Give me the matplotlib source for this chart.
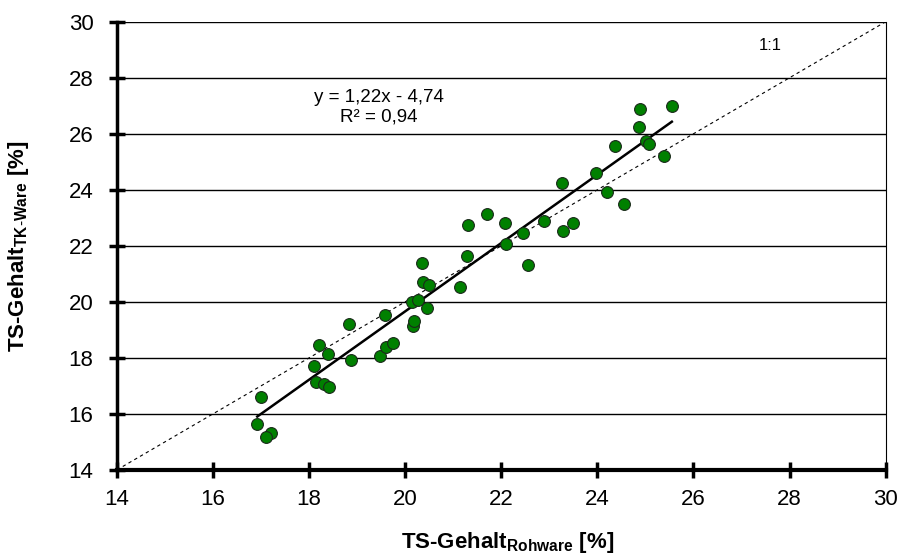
import numpy as np
import matplotlib.pyplot as plt

# TS-Gehalt Rohware vs. TK-Ware [%]
ts_rohware = [16.99, 16.92, 17.20, 17.10, 18.20, 18.40, 18.11, 18.14, 18.31, 18.41,
              18.88, 19.48, 19.60, 19.74, 18.83, 20.17, 20.18, 19.58, 20.46, 20.14,
              20.26, 20.36, 20.50, 20.35, 21.15, 21.28, 21.30, 22.07, 22.10, 22.45,
              22.56, 21.71, 22.89, 23.29, 23.50, 23.27, 23.97, 24.21, 24.56, 25.39,
              24.88, 25.55, 24.87, 24.37, 25.01, 25.08]
ts_tkware = [16.60, 15.63, 15.31, 15.17, 18.46, 18.14, 17.69, 17.15, 17.05, 16.95,
             17.93, 18.05, 18.37, 18.52, 19.21, 19.14, 19.30, 19.54, 19.78, 20.01,
             20.08, 20.69, 20.61, 21.40, 20.52, 21.62, 22.75, 22.81, 22.06, 22.45,
             21.32, 23.14, 22.89, 22.54, 22.83, 24.24, 24.61, 23.93, 23.49, 25.19,
             26.89, 27.00, 26.25, 25.58, 25.73, 25.63]
slope, intercept = 1.22, -4.74
ticks = [14, 16, 18, 20, 22, 24, 26, 28, 30]

plt.rcParams['font.family'] = ['Liberation Sans', 'DejaVu Sans']
plt.rcParams['mathtext.fontset'] = 'custom'
plt.rcParams['mathtext.rm'] = 'Liberation Sans'
plt.rcParams['mathtext.bf'] = 'Liberation Sans:bold'

fig = plt.figure(figsize=(9, 5.58), dpi=100)
ax = fig.add_axes([0.130, 0.158, 0.854, 0.803])

for t in ticks[1:]:
    ax.axhline(t, color='black', lw=1.0, zorder=1)

# 1:1 line
ax.plot([14, 30], [14, 30], color='black', lw=0.8, ls=(0, (3, 3)), zorder=2)

x = np.array(ts_rohware)
xl = np.array([x.min(), x.max()])
ax.plot(xl, slope * xl + intercept, color='black', lw=1.8, zorder=3)

ax.scatter(ts_rohware, ts_tkware, s=72, color='#008000', edgecolors='#1a2a1a',
           linewidths=0.8, zorder=4)

ax.text(19.45, 26.95, 'y = 1,22x - 4,74\nR² = 0,94', ha='center', va='center',
        fontsize=13.5, linespacing=1.15)
ax.text(27.6, 29.15, '1:1', ha='center', va='center', fontsize=12)

ax.set_xlim(14, 30)
ax.set_ylim(14, 30)
ax.set_xticks(ticks)
ax.set_yticks(ticks)
ax.tick_params(direction='inout', length=12, width=2.5, labelsize=16)
ax.tick_params(axis='x', pad=8)
ax.tick_params(axis='y', pad=11)
ax.spines['left'].set_linewidth(2.5)
ax.spines['bottom'].set_linewidth(3)
ax.spines['right'].set_linewidth(0.8)
ax.spines['top'].set_visible(False)

ax.set_xlabel(r'TS-Gehalt$_{\mathbf{Rohware}}$ [%]', fontsize=16, fontweight='bold')
ax.set_ylabel(r'TS-Gehalt$_{\mathbf{TK\text{-}Ware}}$ [%]', fontsize=16, fontweight='bold')
ax.xaxis.label.set_verticalalignment('center')
ax.yaxis.label.set_verticalalignment('center')
ax.xaxis.set_label_coords(0.508, -0.163)
ax.yaxis.set_label_coords(-0.128, 0.5)

fig.savefig('out.png')
